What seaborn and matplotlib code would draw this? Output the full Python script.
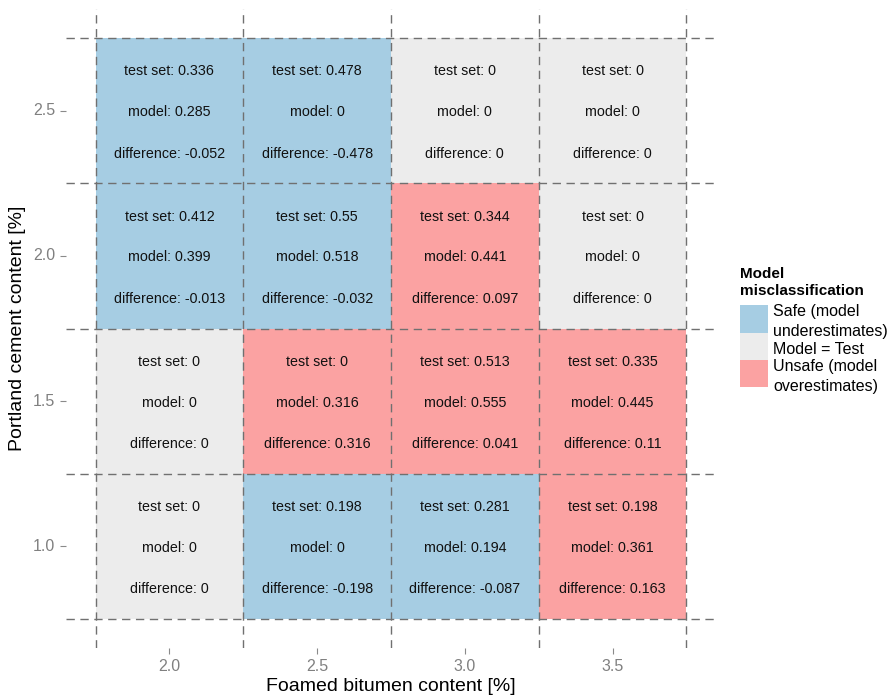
import numpy as np
import pandas as pd
import matplotlib
matplotlib.use("Agg")
import matplotlib.pyplot as plt
from matplotlib.colors import ListedColormap
from matplotlib.patches import Rectangle
import seaborn as sns

# ---- data ----
bitumen = [2.0, 2.5, 3.0, 3.5]          # x categories
cement = [2.5, 2.0, 1.5, 1.0]           # y categories (top to bottom)

test_set = [[0.336, 0.478, 0, 0],
            [0.412, 0.55, 0.344, 0],
            [0, 0, 0.513, 0.335],
            [0, 0.198, 0.281, 0.198]]
model = [[0.285, 0, 0, 0],
         [0.399, 0.518, 0.441, 0],
         [0, 0.316, 0.555, 0.445],
         [0, 0, 0.194, 0.361]]
difference = [[-0.052, -0.478, 0, 0],
              [-0.013, -0.032, 0.097, 0],
              [0, 0.316, 0.041, 0.11],
              [0, -0.198, -0.087, 0.163]]

legend_title = "Model\nmisclassification"
legend_labels = ["Safe (model\nunderestimates)", "Model = Test", "Unsafe (model\noverestimates)"]
colors = ["#a6cde3", "#ececec", "#fba2a2"]

# ---- build ----
W, H = 890, 698
diff = np.array(difference, dtype=float)
cls = np.sign(diff)  # -1 safe, 0 equal, 1 unsafe
df_cls = pd.DataFrame(cls, index=cement, columns=bitumen)

sns.set_theme(style="white")
plt.rcParams['font.family'] = ['Liberation Sans', 'DejaVu Sans']

fig = plt.figure(figsize=(W / 100, H / 100), dpi=100)
ax = fig.add_axes([66 / W, 1 - 648 / H, (716 - 66) / W, (648 - 9) / H])

cmap = ListedColormap(colors)
sns.heatmap(df_cls, ax=ax, cmap=cmap, vmin=-1.5, vmax=1.5, cbar=False,
            annot=False, linewidths=0, square=False)

nrow, ncol = diff.shape
for i in range(nrow):
    for j in range(ncol):
        cx, cy = j + 0.5, i + 0.51
        kw = dict(ha="center", va="center", fontsize=10.3, color="#111111")
        ax.text(cx, cy - 0.28, f"test set: {test_set[i][j]:g}", **kw)
        ax.text(cx, cy, f"model: {model[i][j]:g}", **kw)
        ax.text(cx, cy + 0.285, f"difference: {difference[i][j]:g}", **kw)

# expansion like ggplot
pad = 0.2
ax.set_xlim(-pad, ncol + pad)
ax.set_ylim(nrow + pad, -pad)

# dashed grid at tile boundaries
for k in range(ncol + 1):
    ax.axvline(k, color="#707070", lw=1.0, dashes=(6, 4), zorder=3)
for k in range(nrow + 1):
    ax.axhline(k, color="#707070", lw=1.0, dashes=(6, 4), zorder=3)

for s in ax.spines.values():
    s.set_visible(False)

ax.set_xticks(np.arange(ncol) + 0.5)
ax.set_xticklabels([f"{v:.1f}" for v in bitumen], rotation=0)
ax.set_yticks(np.arange(nrow) + 0.5)
ax.set_yticklabels([f"{v:.1f}" for v in cement], rotation=0)
ax.tick_params(axis="both", which="both", length=4.5, width=0.8, color="#8a8a8a",
               labelcolor="#808080", labelsize=11.5, pad=3.5, bottom=True, left=True)

ax.set_xlabel("Foamed bitumen content [%]", fontsize=14, color="black", labelpad=3)
ax.set_ylabel("Portland cement content [%]", fontsize=14, color="black", labelpad=5)

# legend (ggplot-style: contiguous keys)
fig.text(740 / W, 1 - 267 / H, legend_title, ha="left", va="top", fontsize=11,
         fontweight="bold", linespacing=1.3, color="black")
key_top, key_h, key_w = 305, 27.5, 28
for k, (c, lab) in enumerate(zip(colors, legend_labels)):
    y0 = key_top + key_h * k
    fig.add_artist(Rectangle((740 / W, 1 - (y0 + key_h) / H), key_w / W, key_h / H,
                             transform=fig.transFigure, facecolor=c, edgecolor="none"))
    fig.text(773 / W, 1 - (y0 + key_h / 2 + 3) / H, lab, ha="left", va="center",
             fontsize=11.5, linespacing=1.4, color="black")

fig.savefig("out.png", dpi=100)
